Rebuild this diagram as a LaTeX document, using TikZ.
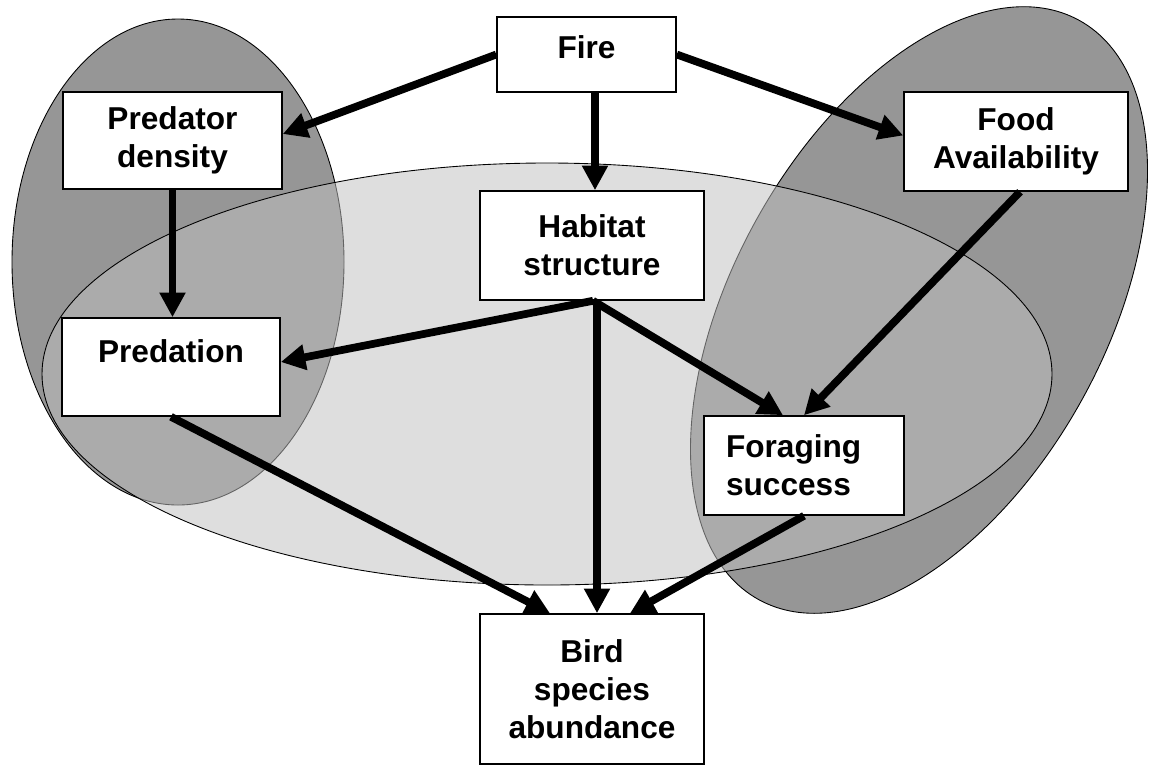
\documentclass[tikz,border=0pt]{standalone}
\usepackage{fontspec}
\setmainfont{Liberation Sans}
\usetikzlibrary{arrows.meta,calc}
\definecolor{darkblob}{gray}{0.59}
\begin{document}
\begin{tikzpicture}[x=0.02cm,y=-0.02cm,
  box/.style={draw=black,line width=0.9pt,fill=white,inner sep=0pt,align=center,
    font=\fontsize{18}{21.5}\selectfont\bfseries},
  arr/.style={line width=4.4pt,-{Triangle[length=14pt,width=14pt]}},
  blob/.style={draw=black,line width=0.5pt,fill=darkblob},
  midblob/.style={draw=black,line width=0.5pt,fill=black!25,fill opacity=0.52}
]
\useasboundingbox (0,0) rectangle (1155,765);
% regions
\draw[blob] (178,262) ellipse [x radius=166, y radius=243];
\draw[blob, rotate around={-29:(919,310)}] (919,310) ellipse [x radius=186, y radius=331];
\draw[midblob] (547,374) ellipse [x radius=505, y radius=211];
% boxes
\node[box, minimum width=3.58cm, minimum height=1.5cm, text height=13pt, text depth=9pt] (fire) at (586.5,54.5) {Fire};
\node[box, minimum width=4.38cm, minimum height=1.94cm] (pd) at (172.5,140.5) {Predator\\density};
\node[box, minimum width=4.48cm, minimum height=1.98cm] (food) at (1016,141.5) {Food\\Availability};
\node[box, minimum width=4.48cm, minimum height=2.18cm] (hab) at (592,245.5) {Habitat\\structure};
\node[box, minimum width=4.36cm, minimum height=1.96cm, text height=13pt, text depth=18.7pt] (pred) at (171,367) {Predation};
\node[box, align=left, text width=3.12cm, minimum width=4.0cm, minimum height=1.98cm] (forag) at (804,465.5) {Foraging\\success};
\node[box, minimum width=4.48cm, minimum height=3.0cm] (bird) at (592,689) {Bird\\species\\abundance};
% connectors
\coordinate (hs) at ($(hab.south)+(1,0)$);
\draw[arr] (fire.west) -- ([yshift=0.13cm]pd.east);
\draw[arr] ([xshift=0.17cm]fire.south) -- ([xshift=0.17cm]fire.south |- hab.north);
\draw[arr] (fire.east) -- ([yshift=0.12cm]food.west);
\draw[arr] (pd.south) -- (pd.south |- pred.north);
\draw[arr] (hs) -- ([yshift=0.1cm]pred.east);
\draw[arr] (hs) -- ([xshift=-0.42cm]forag.north);
\draw[arr] ([xshift=0.1cm]hab.south) -- ([xshift=0.1cm]hab.south |- bird.north);
\draw[arr] ([xshift=0.08cm]food.south) -- (forag.north);
\draw[arr] (pred.south) -- ([xshift=-0.84cm]bird.north);
\draw[arr] (forag.south) -- ([xshift=0.76cm]bird.north);
\end{tikzpicture}
\end{document}
